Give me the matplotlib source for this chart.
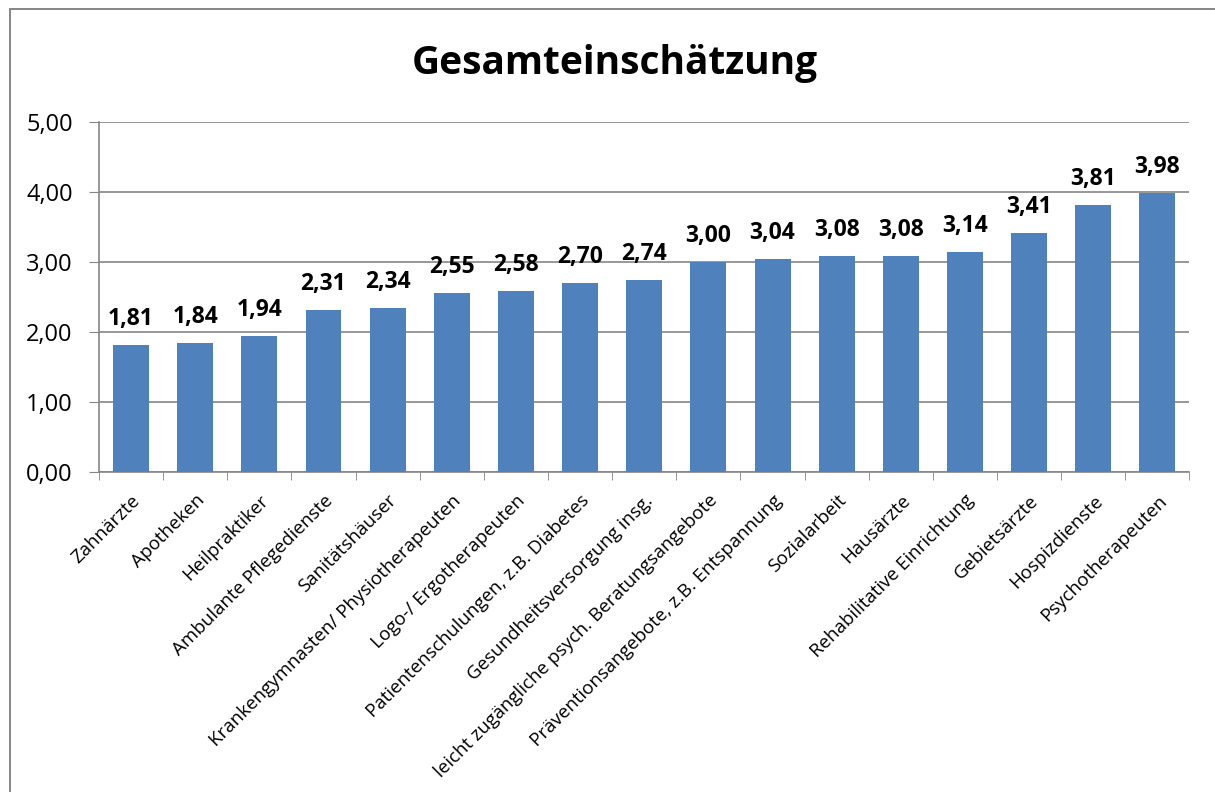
import matplotlib
matplotlib.use('Agg')
import matplotlib.pyplot as plt
from matplotlib.patches import Rectangle

categories = ['Zahnärzte', 'Apotheken', 'Heilpraktiker', 'Ambulante Pflegedienste',
              'Sanitätshäuser', 'Krankengymnasten/ Physiotherapeuten',
              'Logo-/ Ergotherapeuten', 'Patientenschulungen, z.B. Diabetes',
              'Gesundheitsversorgung insg.', 'leicht zugängliche psych. Beratungsangebote',
              'Präventionsangebote, z.B. Entspannung', 'Sozialarbeit', 'Hausärzte',
              'Rehabilitative Einrichtung', 'Gebietsärzte', 'Hospizdienste',
              'Psychotherapeuten']
values = [1.81, 1.84, 1.94, 2.31, 2.34, 2.55, 2.58, 2.70, 2.74, 3.00,
          3.04, 3.08, 3.08, 3.14, 3.41, 3.81, 3.98]
yticks = [0, 1, 2, 3, 4, 5]

plt.rcParams['font.family'] = ['Open Sans', 'DejaVu Sans']

fig = plt.figure(figsize=(12.15, 7.92), dpi=100)
ax = fig.add_axes([0.0815, 0.404, 0.8975, 0.442])

x = range(len(categories))
ax.bar(x, values, width=0.56, color='#4F81BD', zorder=3)

for i, v in enumerate(values):
    ax.text(i, v + 0.2, f'{v:.2f}'.replace('.', ','), ha='center', va='bottom',
            fontsize=16.5, fontweight='bold', color='black')

ax.set_xlim(-0.5, len(categories) - 0.5)
ax.set_ylim(0, 5)
ax.set_yticks(yticks)
ax.set_yticklabels([f'{t:.2f}'.replace('.', ',') for t in yticks], fontsize=17)
ax.yaxis.grid(True, color='#868686', linewidth=1.2, zorder=0)

ax.set_xticks(x)
ax.set_xticklabels(categories, rotation=45, ha='right', rotation_mode='anchor',
                   fontsize=13.5)
ax.set_xticks([i + 0.5 for i in range(-1, len(categories))], minor=True)
ax.tick_params(axis='x', which='major', length=0, pad=14)
ax.tick_params(axis='x', which='minor', length=6, color='#868686')
ax.tick_params(axis='y', length=7, color='#868686', pad=12)

for s in ['top', 'right']:
    ax.spines[s].set_visible(False)
for s in ['left', 'bottom']:
    ax.spines[s].set_color('#868686')
    ax.spines[s].set_linewidth(1.2)

fig.text(0.506, 0.92, 'Gesamteinschätzung', ha='center', va='center',
         fontsize=28, fontweight='bold')

# outer chart frame (only top and left edges visible in the crop)
fig.patches.append(Rectangle((0.008, -0.01), 1.1, 0.999, transform=fig.transFigure,
                             fill=False, edgecolor='#868686', linewidth=1.4))

fig.savefig('out.png', dpi=100)
